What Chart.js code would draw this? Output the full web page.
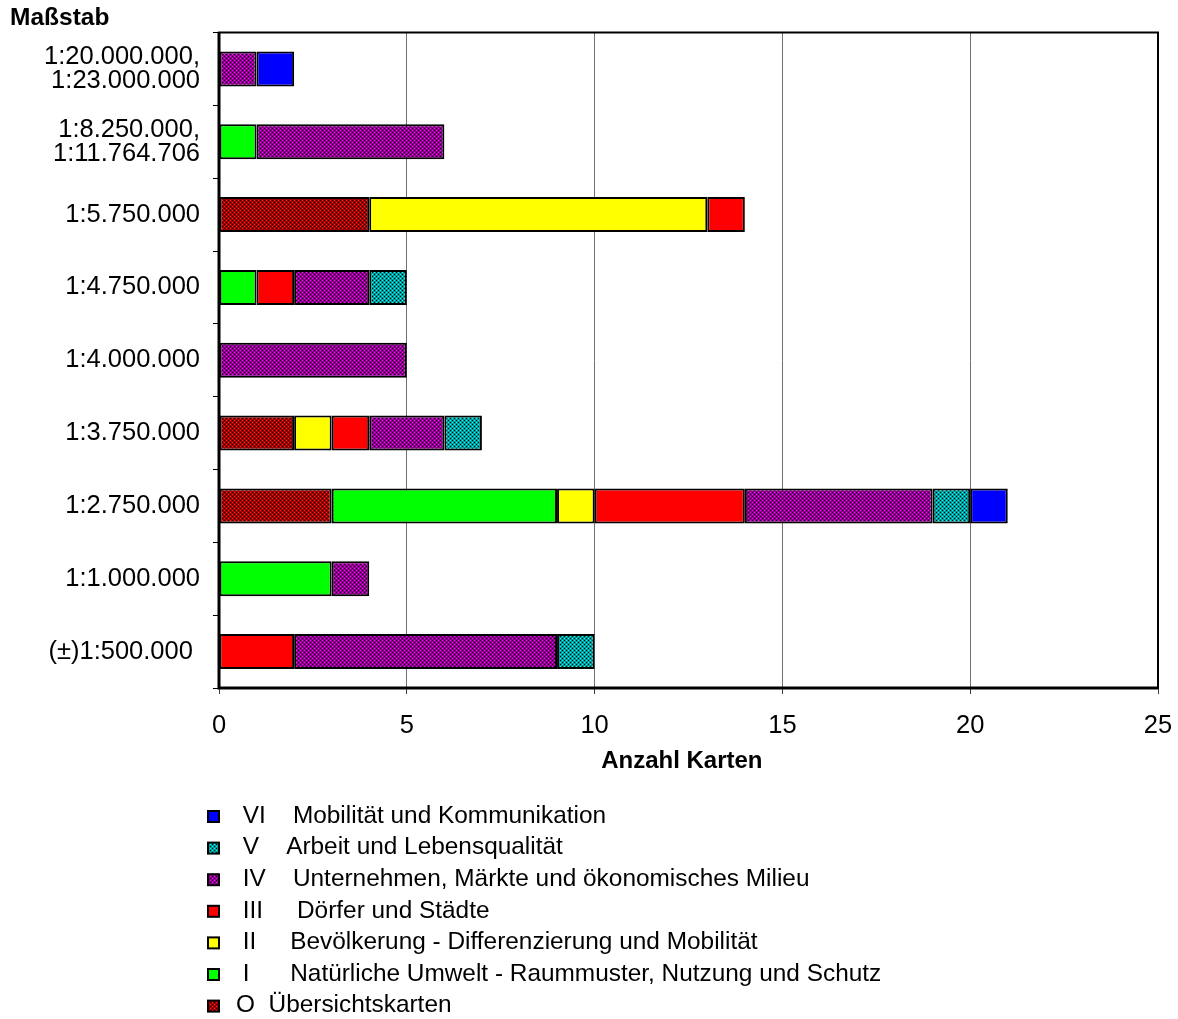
<!DOCTYPE html>
<html><head><meta charset="utf-8">
<script src="https://cdn.jsdelivr.net/npm/chart.js@4.4.1/dist/chart.umd.min.js"></script>
<style>html,body{margin:0;padding:0;background:#fff;} #wrap{width:1178px;height:1019px;}</style>
</head><body><div id="wrap"><canvas id="c" width="1178" height="1019"></canvas></div>
<script>
// ---- data ----
const categories = [
  ['1:20.000.000,', '1:23.000.000'],
  ['1:8.250.000,', '1:11.764.706'],
  '1:5.750.000',
  '1:4.750.000',
  '1:4.000.000',
  '1:3.750.000',
  '1:2.750.000',
  '1:1.000.000',
  '(±)1:500.000 '
];
const seriesLabels = [
  'O  Übersichtskarten',
  ' I      Natürliche Umwelt - Raummuster, Nutzung und Schutz',
  ' II     Bevölkerung - Differenzierung und Mobilität',
  ' III     Dörfer und Städte',
  ' IV    Unternehmen, Märkte und ökonomisches Milieu',
  ' V    Arbeit und Lebensqualität',
  ' VI    Mobilität und Kommunikation'
];
const valuesO   = [null, null, 4, null, null, 2, 3, null, null];
const valuesI   = [null, 1, null, 1, null, null, 6, 3, null];
const valuesII  = [null, null, 9, null, null, 1, 1, null, null];
const valuesIII = [null, null, 1, 1, null, 1, 4, null, 2];
const valuesIV  = [1, 5, null, 2, 5, 2, 5, 1, 7];
const valuesV   = [null, null, null, 1, null, 1, 1, null, 1];
const valuesVI  = [1, null, null, null, null, null, 1, null, null];
const xTicks = [0, 5, 10, 15, 20, 25];
const yTitle = 'Maßstab';
const xTitle = 'Anzahl Karten  ';

// ---- styles ----
function pattern(base, bright) {
  const c = document.createElement('canvas');
  c.width = 4; c.height = 4;
  const x = c.getContext('2d');
  x.fillStyle = base; x.fillRect(0, 0, 4, 4);
  x.fillStyle = '#000'; x.fillRect(0, 0, 1, 1); x.fillRect(2, 2, 1, 1);
  x.fillStyle = bright; x.fillRect(2, 0, 1, 1); x.fillRect(0, 2, 1, 1);
  return x.createPattern(c, 'repeat');
}
const fills = [
  pattern('#a00000', '#ff2020'),
  '#00ff00',
  '#ffff00',
  '#ff0000',
  pattern('#900090', '#ff00ff'),
  pattern('#009a9a', '#00ffff'),
  '#0000ff'
];
const seriesValues = [valuesO, valuesI, valuesII, valuesIII, valuesIV, valuesV, valuesVI];

const FONT = '"Liberation Sans", Arial, Helvetica, sans-serif';
Chart.defaults.font.family = FONT;
Chart.defaults.color = '#000';

const frame = {
  id: 'frame',
  afterDraw(chart) {
    const a = chart.chartArea, ctx = chart.ctx;
    ctx.save();
    ctx.strokeStyle = '#000';
    ctx.lineWidth = 2;
    ctx.strokeRect(a.left, a.top, a.right - a.left, a.bottom - a.top);
    ctx.lineWidth = 3;
    ctx.beginPath();
    ctx.moveTo(a.left, a.top); ctx.lineTo(a.left, a.bottom); ctx.lineTo(a.right, a.bottom);
    ctx.stroke();
    ctx.restore();
  }
};
const legendList = {
  id: 'legendList',
  afterDraw(chart) {
    const ctx = chart.ctx, ds = chart.data.datasets, n = ds.length;
    ctx.save();
    ctx.font = '24.4px ' + FONT;
    ctx.textBaseline = 'middle';
    for (let k = 0; k < n; k++) {
      const d = ds[n - 1 - k];
      const y = 816 + k * 31.6;
      ctx.fillStyle = d.backgroundColor;
      ctx.fillRect(208, y - 5, 11, 11);
      ctx.strokeStyle = '#000'; ctx.lineWidth = 2;
      ctx.strokeRect(208, y - 5, 11, 11);
      ctx.fillStyle = '#000';
      ctx.fillText(d.label, 236, y);
    }
    ctx.restore();
  }
};

new Chart(document.getElementById('c'), {
  type: 'bar',
  data: {
    labels: categories,
    datasets: seriesValues.map((v, i) => ({
      label: seriesLabels[i],
      data: v,
      backgroundColor: fills[i],
      borderColor: '#000',
      borderWidth: 2,
      borderSkipped: false,
      barPercentage: 0.48,
      categoryPercentage: 1
    }))
  },
  options: {
    indexAxis: 'y',
    responsive: false,
    animation: false,
    devicePixelRatio: 1,
    layout: { padding: { left: 10, right: 20, top: 0, bottom: 243 } },
    plugins: {
      legend: { display: false },
      tooltip: { enabled: false },
      title: {
        display: true, text: yTitle, align: 'start', color: '#000',
        font: { size: 24.5, weight: 'bold', lineHeight: 1 },
        padding: { top: 6, bottom: 2 }
      }
    },
    scales: {
      x: {
        stacked: true, min: 0, max: 25,
        afterBuildTicks(s) { s.ticks = xTicks.map(v => ({ value: v })); },
        afterFit(s) { s.height = 88; s.paddingLeft = 0; s.paddingRight = 0; },
        grid: { color: '#707070', lineWidth: 1, tickLength: 6, tickColor: '#404040' },
        border: { display: false },
        ticks: { font: { size: 25.5 }, padding: 17, color: '#000' },
        title: { display: true, text: xTitle, font: { size: 24, weight: 'bold' }, padding: { top: 0, bottom: 0 }, color: '#000' }
      },
      y: {
        stacked: true,
        afterFit(s) { s.width = 209; },
        grid: { drawOnChartArea: false, offset: true, tickLength: 6, color: '#000', tickColor: '#000' },
        border: { display: false },
        ticks: { font: { size: 25.5, lineHeight: 0.93 }, padding: 13, color: '#000' }
      }
    }
  },
  plugins: [frame, legendList]
});
</script></body></html>
